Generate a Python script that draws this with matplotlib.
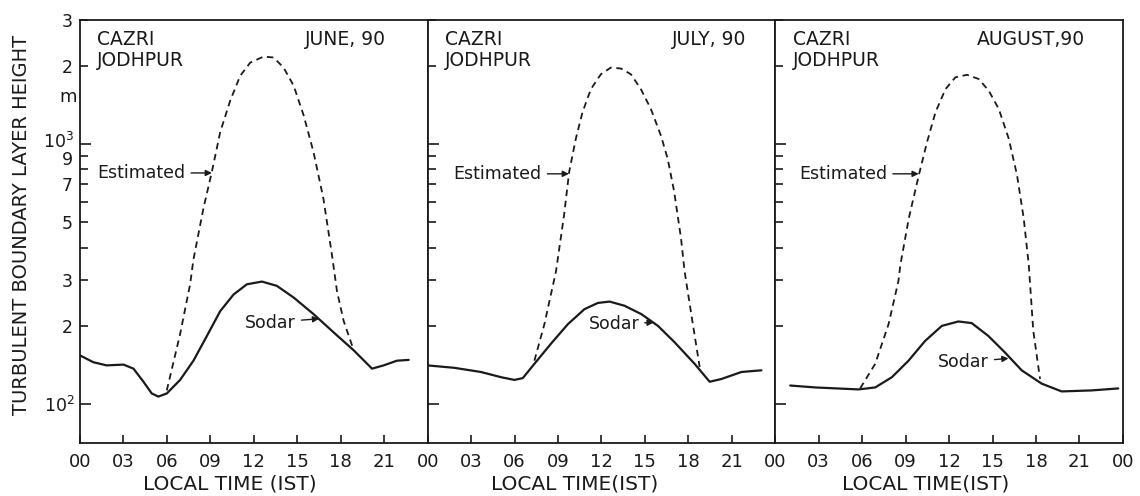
import matplotlib
matplotlib.use("Agg")
import matplotlib.pyplot as plt
from matplotlib.transforms import ScaledTranslation

plt.rcParams['font.family'] = ['DejaVu Sans']

# ---- data (hours, metres) ----
june_sodar_h = [0, 0.92, 1.84, 3.0, 3.69, 4.38, 4.95, 5.41, 5.99, 6.91, 7.83, 8.76, 9.68, 10.6, 11.52, 12.56,
                13.59, 14.75, 16.12, 17.5, 18.9, 20.16, 20.96, 21.88, 22.69]
june_sodar_v = [154, 145, 141, 142, 137, 122, 110, 107, 110, 124, 147, 183, 228, 264, 289, 296,
                285, 257, 222, 189, 161, 137, 141, 147, 148]
june_est_h = [5.99, 6.91, 7.6, 7.83, 8.52, 9.10, 9.68, 10.37, 11.06, 11.75, 12.67, 13.36, 14.05, 14.75,
              15.44, 16.12, 16.8, 17.39, 17.74, 18.2, 18.9]
june_est_v = [113, 186, 289, 360, 566, 781, 1112, 1469, 1829, 2055, 2167, 2150, 1967, 1675,
              1288, 931, 618, 376, 272, 209, 161]

july_sodar_h = [0, 1.84, 3.68, 5.07, 5.99, 6.57, 7.37, 8.52, 9.68, 10.83, 11.75, 12.56, 13.59, 14.75,
                15.9, 17.05, 18.43, 19.47, 20.28, 21.66, 23.04]
july_sodar_v = [141, 138, 133, 127, 124, 126, 143, 171, 203, 232, 245, 248, 239, 222,
                200, 173, 143, 122, 125, 133, 135]
july_est_h = [7.37, 8.06, 8.86, 9.42, 9.77, 10.23, 10.69, 11.27, 11.96, 12.65, 13.34, 14.03, 14.72,
              15.41, 16.1, 16.57, 17.02, 17.49, 17.74, 18.2, 18.78]
july_est_v = [147, 203, 324, 534, 781, 1048, 1324, 1625, 1854, 1967, 1950, 1854, 1625,
              1364, 1079, 879, 656, 435, 324, 222, 139]

aug_sodar_h = [1.03, 2.76, 5.75, 6.9, 8.05, 9.2, 10.34, 11.5, 12.64, 13.56, 14.71, 15.86, 17.01,
               18.39, 19.77, 21.84, 23.68]
aug_sodar_v = [118, 116, 114, 116, 127, 147, 175, 200, 208, 205, 183, 158, 135,
               120, 112, 113, 115]
aug_est_h = [5.86, 6.9, 7.82, 8.5, 8.64, 9.22, 9.91, 10.48, 11.06, 11.75, 12.43, 13.24, 14.05, 14.74,
             15.43, 16.12, 16.69, 17.15, 17.5, 17.81, 18.28]
aug_est_v = [115, 143, 203, 297, 344, 519, 759, 1018, 1324, 1625, 1803, 1845, 1777, 1602,
             1364, 1048, 759, 519, 344, 192, 125]

months = ["JUNE, 90", "JULY, 90", "AUGUST,90"]
xlabels = ["LOCAL TIME (IST)", "LOCAL TIME(IST)", "LOCAL TIME(IST)"]
xtick_vals = [0, 3, 6, 9, 12, 15, 18, 21, 24]
xtick_labels = ["00", "03", "06", "09", "12", "15", "18", "21", "00"]
ymajor = [100, 1000]
ymajor_labels = ["$\\mathregular{10^2}$", "$\\mathregular{10^3}$"]
yminor = [200, 300, 400, 500, 600, 700, 800, 900, 2000, 3000]
yminor_labels = ["2", "3", "", "5", "", "7", "", "9", "2", "3"]

# annotation anchors: (text_h, text_v, arrow_h, arrow_v)
est_ann = [(1.2, 774, 9.1, 774), (1.8, 768, 9.75, 768), (1.65, 768, 9.9, 768)]
sod_ann = [(11.4, 206, 16.5, 213), (11.1, 204, 15.6, 206), (11.25, 145, 16.1, 150)]
month_x = [0.88, 0.917, 0.89]
xlabel_x = [0.202, 0.504, 0.812]

sodar = [(june_sodar_h, june_sodar_v), (july_sodar_h, july_sodar_v), (aug_sodar_h, aug_sodar_v)]
est = [(june_est_h, june_est_v), (july_est_h, july_est_v), (aug_est_h, aug_est_v)]

fig = plt.figure(figsize=(11.4, 4.96), dpi=100)
gs = fig.add_gridspec(1, 3, left=0.0702, right=0.985, top=0.960, bottom=0.107, wspace=0)
ink = '#1a1a1a'
for i in range(3):
    ax = fig.add_subplot(gs[0, i])
    ax.set_yscale('log')
    ax.plot(sodar[i][0], sodar[i][1], color=ink, lw=1.6, solid_capstyle='round', solid_joinstyle='round')
    ax.plot(est[i][0], est[i][1], color=ink, lw=1.3, ls=(0, (3.6, 2.6)))
    ax.set_xlim(0, 24)
    ax.set_ylim(71, 3000)
    ax.set_xticks(xtick_vals)
    ax.set_yticks(ymajor)
    ax.set_yticks(yminor, minor=True)
    if i == 0:
        ax.set_yticklabels(ymajor_labels)
        ax.set_yticklabels(yminor_labels, minor=True)
    else:
        ax.set_yticklabels([])
        ax.set_yticklabels([], minor=True)
    if i < 2:
        ax.set_xticklabels(xtick_labels[:-1] + [""])
    else:
        ax.set_xticklabels(xtick_labels)
    ax.tick_params(axis='both', which='both', direction='in', colors=ink, labelsize=13,
                   labelcolor=ink, width=1.2)
    ax.tick_params(axis='y', which='both', labelsize=12.5)
    ax.tick_params(axis='y', which='major', length=8, pad=4)
    ax.tick_params(axis='y', which='minor', length=6, pad=5)
    ax.tick_params(axis='x', which='major', length=6, pad=7)
    if i == 0:
        fig.canvas.draw()
        ylabs = ax.get_yticklabels()
        ylabs[1].set_transform(ylabs[1].get_transform() + ScaledTranslation(0, 4 / 100, fig.dpi_scale_trans))
        mlabs = ax.get_yticklabels(minor=True)
        mlabs[7].set_transform(mlabs[7].get_transform() + ScaledTranslation(0, -2 / 100, fig.dpi_scale_trans))
    for s in ax.spines.values():
        s.set_color(ink)
        s.set_linewidth(1.3)
    ax.text(0.05, 0.953, "CAZRI", transform=ax.transAxes, fontsize=13.5, color=ink, va='center', ha='left')
    ax.text(0.05, 0.905, "JODHPUR", transform=ax.transAxes, fontsize=13.5, color=ink, va='center', ha='left')
    ax.text(month_x[i], 0.953, months[i], transform=ax.transAxes, fontsize=13.5, color=ink, va='center', ha='right')
    th, tv, ah, av = est_ann[i]
    ax.annotate("Estimated", xy=(ah, av), xytext=(th, tv), fontsize=12.5, color=ink, va='center', ha='left',
                arrowprops=dict(arrowstyle='-|>', color=ink, lw=1.0, shrinkA=2, shrinkB=0, mutation_scale=9))
    th, tv, ah, av = sod_ann[i]
    ax.annotate("Sodar", xy=(ah, av), xytext=(th, tv), fontsize=12.5, color=ink, va='center', ha='left',
                arrowprops=dict(arrowstyle='-|>', color=ink, lw=1.0, shrinkA=2, shrinkB=0, mutation_scale=9))
    fig.text(xlabel_x[i], 0.024, xlabels[i], fontsize=14.5, color=ink, ha='center', va='center')

fig.text(0.019, 0.546, "TURBULENT BOUNDARY LAYER HEIGHT", rotation=90, fontsize=14, color=ink,
         ha='center', va='center')
fig.text(0.060, 0.804, "m", fontsize=13, color=ink, ha='center', va='center')

fig.savefig("out.png", dpi=100, facecolor='white')
